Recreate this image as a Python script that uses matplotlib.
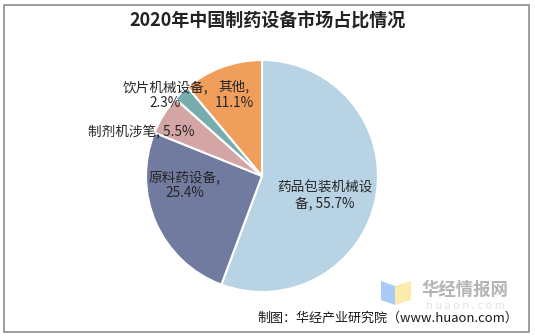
import matplotlib.pyplot as plt
from matplotlib.patches import Rectangle, Polygon
import numpy as np

plt.rcParams['font.family'] = ['Noto Sans CJK SC', 'DejaVu Sans']

# market share of pharmaceutical equipment, 2020
labels = ['药品包装机械设\n备, 55.7%', '原料药设备,\n25.4%', '制剂机涉笔, 5.5%',
          '饮片机械设备,\n2.3%', '其他,\n11.1%']
shares = [55.7, 25.4, 5.5, 2.3, 11.1]
colors = ['#B8D4E4', '#717B9F', '#D3A6A5', '#78ADAE', '#F09E5C']

# label offsets (radius factor, extra angle in degrees) per wedge
label_pos = [(0.57, -7), (0.67, -17), (1.11, 12), (1.085, 6), (0.74, -1)]

W, H = 535, 336
fig = plt.figure(figsize=(W / 100, H / 100), dpi=100)
fig.patches.append(Rectangle((4 / W, 4 / H), 525 / W, 327 / H, transform=fig.transFigure,
                             fill=False, edgecolor='#8C8C8C', linewidth=1.2))

cx, cy, R = 262, 176, 116
ax = fig.add_axes([(cx - R) / W, (H - cy - R) / H, 2 * R / W, 2 * R / H])
wedges, _ = ax.pie(shares, colors=colors, startangle=90, counterclock=False,
                   wedgeprops=dict(edgecolor='white', linewidth=1.5))
ax.set_xlim(-1, 1)
ax.set_ylim(-1, 1)
ax.axis('off')

for w, lab, (rf, da) in zip(wedges, labels, label_pos):
    ang = np.deg2rad((w.theta1 + w.theta2) / 2 + da)
    ax.text(rf * np.cos(ang), rf * np.sin(ang), lab, ha='center', va='center',
            fontsize=9.8, color='#262626', linespacing=1.2)

fig.text(0.5, 1 - 21 / H, '2020年中国制药设备市场占比情况', ha='center', va='center',
         fontsize=13, fontweight='bold', color='#222222')

# watermark logo
fig.patches.append(Polygon([(381 / W, 1 - 281 / H), (395 / W, 1 - 286 / H),
                            (395 / W, 1 - 305 / H), (381 / W, 1 - 300 / H)],
                           closed=True, transform=fig.transFigure, facecolor='#A9CBF5',
                           edgecolor='none'))
fig.patches.append(Polygon([(395 / W, 1 - 286 / H), (411 / W, 1 - 281 / H),
                            (411 / W, 1 - 300 / H), (395 / W, 1 - 305 / H)],
                           closed=True, transform=fig.transFigure, facecolor='#FCEBAA',
                           edgecolor='none'))
fig.text(465 / W, 1 - 290 / H, '华经情报网', ha='center', va='center', fontsize=12.5,
         fontweight='bold', color='#B4B4B4')
fig.text(465 / W, 1 - 306 / H, 'h u a o n . c o m', ha='center', va='center', fontsize=8,
         color='#E2E2E2')

fig.text(518 / W, 1 - 318 / H, '制图：华经产业研究院（www.huaon.com）', ha='right',
         va='center', fontsize=9.4, color='#1A1A1A')

fig.savefig('out.png', dpi=100)
